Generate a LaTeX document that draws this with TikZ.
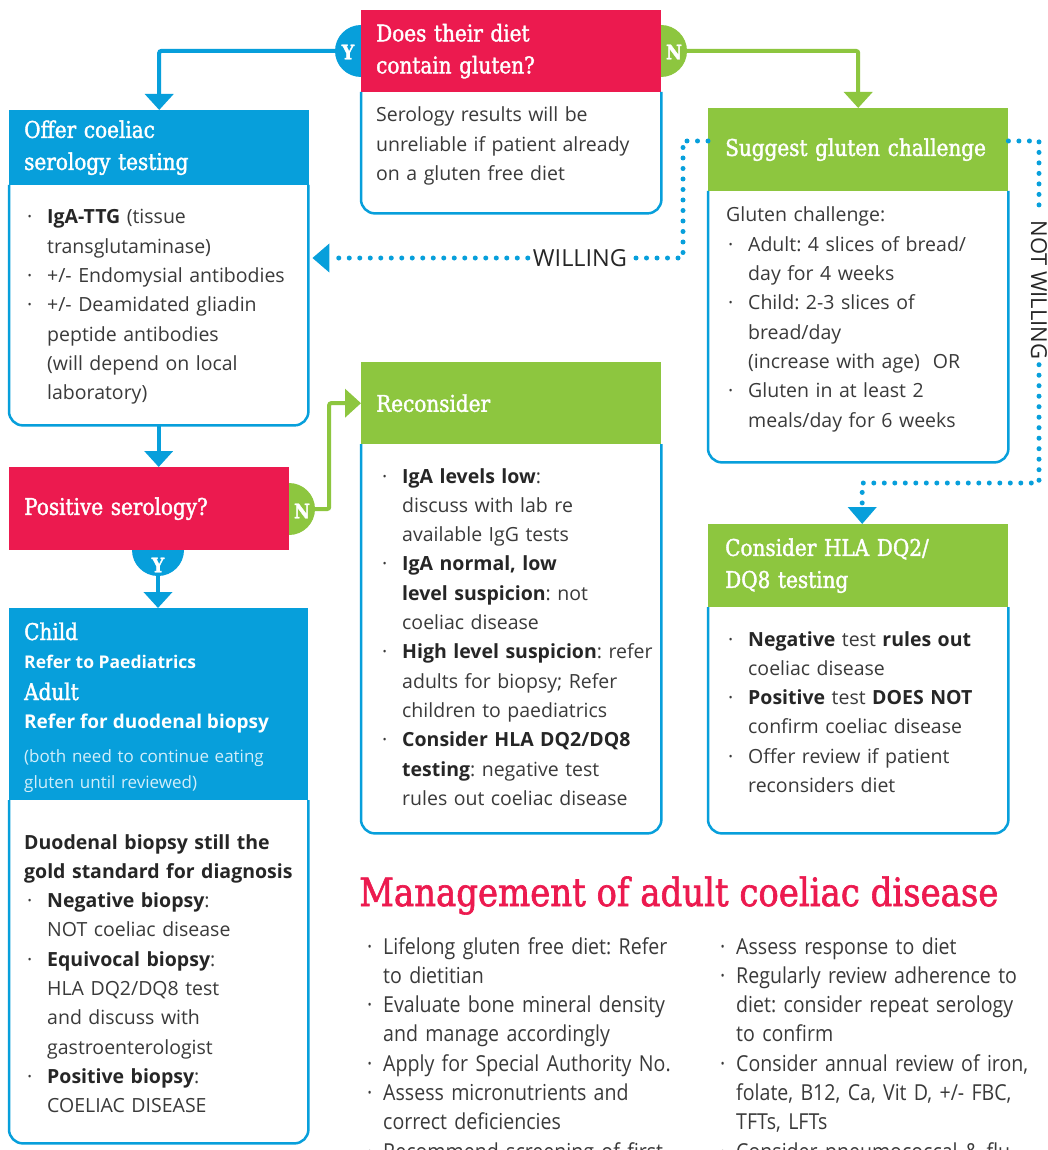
\documentclass[tikz,border=0pt]{standalone}
\usepackage{fontspec}
\setmainfont{Open Sans}
\newfontfamily\slab{DejaVu Serif}[FakeStretch=0.87, FakeBold=1.6]
\newfontfamily\cond{Open Sans}[FakeStretch=0.89]
\usetikzlibrary{arrows.meta,calc}
\definecolor{cblue}{HTML}{079FDB}
\definecolor{cred}{HTML}{EC1A4F}
\definecolor{cgreen}{HTML}{8DC63F}
\definecolor{ctext}{HTML}{3A3A3A}
\definecolor{clight}{HTML}{D2EEFA}
\frenchspacing
\newcommand\bu{\makebox[20pt][l]{·}}
\newcommand\ind{\hspace*{20pt}}
\newcommand\mbu{\makebox[16pt][l]{·}}
\newcommand\mind{\hspace*{16pt}}
\newcommand\hfont{\slab\fontsize{23}{32}\selectfont}
\newcommand\bfontx{\fontsize{19.5}{29.3}\selectfont}
\newcommand\sbold[1]{{\bfseries\color{black!85}#1}}
\begin{document}
\begin{tikzpicture}[x=1pt,y=-1pt,
  hdr/.style={rectangle, anchor=north west, inner xsep=15pt, inner ysep=0pt,
    text width=270pt, minimum width=300pt, align=left, text=white, font=\hfont},
  frame/.style={rectangle, anchor=north west, inner sep=0pt, minimum width=300pt},
  frm/.style={draw=cblue, line width=2.5pt, rounded corners=14pt},
  yn/.style={circle, minimum size=52pt, inner sep=0pt},
  ynl/.style={text=white, font=\slab\bfseries\fontsize{20}{22}\selectfont, inner sep=0pt},
  conn/.style={draw=#1, line width=4pt, rounded corners=2pt,
    -{Triangle[width=28pt,length=16pt]}},
  dots/.style={draw=cblue, line width=5pt, line cap=round, dash pattern=on 0pt off 10.5pt},
  dtip/.style={-{Triangle[width=28pt,length=17pt,fill=cblue]}},
  txt/.style={anchor=base west, inner sep=0pt, text width=#1, align=left,
    font=\bfontx, text=ctext},
  lbl/.style={inner sep=5pt, text=black!85, font=\fontsize{23.5}{26}\selectfont},
  mtxt/.style={anchor=base west, inner sep=0pt, text width=340pt, align=left,
    font=\cond\fontsize{22}{29.3}\selectfont, text=ctext}
]
\path[use as bounding box] (0,0) rectangle (1047,1150);
\clip (0,0) rectangle (1047,1150);
\fill[white] (0,0) rectangle (1047,1150);

% decision circles (drawn beneath the boxes)
\node[yn, fill=cblue] (y1) at (361,51) {};
\node[yn, fill=cgreen] (n1) at (661,51) {};
\node[yn, fill=cgreen] (n2) at (289,509) {};
\node[yn, fill=cblue] (y2) at (158,550) {};

% top question
\node[hdr, fill=cred, minimum height=82pt] (q) at (361,10) {Does their diet\\contain gluten?};
\node[frame, minimum height=121pt] (qb) at (361,92) {};
\draw[frm] (qb.north west) -- (qb.south west) -- (qb.south east) -- (qb.north east);
\node[txt=290pt] (qt) at (376,122) {Serology results will be\\unreliable if patient already\\on a gluten free diet};

% offer serology
\node[hdr, fill=cblue, minimum height=75pt] (offer) at (9,110) {Offer coeliac\\serology testing};
\node[frame, minimum height=240pt, minimum width=299pt] (offerb) at (9,185) {};
\draw[frm] (offerb.north west) -- (offerb.south west) -- (offerb.south east) -- (offerb.north east);
\node[txt=290pt] (offert) at (27,224) {\bu\sbold{IgA-TTG} (tissue\\
\ind transglutaminase)\\
\bu +/- Endomysial antibodies\\
\bu +/- Deamidated gliadin\\
\ind peptide antibodies\\
\ind (will depend on local\\
\ind laboratory)};

% positive serology
\node[hdr, fill=cred, minimum height=83pt, minimum width=280pt, text width=250pt] (pos) at (9,467) {Positive serology?};

% child / adult
\node[frame, fill=cblue, minimum height=192pt, minimum width=299pt] (child) at (9,608) {};
\node[anchor=base west, inner sep=0pt, text=white, font=\slab\fontsize{23}{26}\selectfont] (c1) at (24,640) {Child};
\node[anchor=base west, inner sep=0pt, text=white, font=\bfseries\fontsize{17.5}{20}\selectfont] (c2) at (24,668) {Refer to Paediatrics};
\node[anchor=base west, inner sep=0pt, text=white, font=\slab\fontsize{23}{26}\selectfont] (c3) at (24,700) {Adult};
\node[anchor=base west, inner sep=0pt, text=white, font=\bfseries\fontsize{19}{22}\selectfont] (c4) at (24,728) {Refer for duodenal biopsy};
\node[anchor=base west, inner sep=0pt, text width=280pt, align=left, text=clight, font=\fontsize{17}{26}\selectfont] (c5) at (24,762) {(both need to continue eating\\gluten until reviewed)};
\node[frame, minimum height=343pt, minimum width=299pt] (childb) at (9,800) {};
\draw[frm] (childb.north west) -- (childb.south west) -- (childb.south east) -- (childb.north east);
\node[txt=290pt] (childt) at (27,849) {\hspace*{-3pt}\sbold{Duodenal biopsy still the}\\
\hspace*{-3pt}\sbold{gold standard for diagnosis}\\
\bu\sbold{Negative biopsy}:\\
\ind NOT coeliac disease\\
\bu\sbold{Equivocal biopsy}:\\
\ind HLA DQ2/DQ8 test\\
\ind and discuss with\\
\ind gastroenterologist\\
\bu\sbold{Positive biopsy}:\\
\ind COELIAC DISEASE};

% reconsider
\node[hdr, fill=cgreen, minimum height=82pt] (recon) at (361,362) {Reconsider};
\node[frame, minimum height=389pt] (reconb) at (361,444) {};
\draw[frm] (reconb.north west) -- (reconb.south west) -- (reconb.south east) -- (reconb.north east);
\node[txt=290pt] (recont) at (382,483) {\bu\sbold{IgA levels low}:\\
\ind discuss with lab re\\
\ind available IgG tests\\
\bu\sbold{IgA normal, low}\\
\ind\sbold{level suspicion}: not\\
\ind coeliac disease\\
\bu\sbold{High level suspicion}: refer\\
\ind adults for biopsy; Refer\\
\ind children to paediatrics\\
\bu\sbold{Consider HLA DQ2/DQ8}\\
\ind\sbold{testing}: negative test\\
\ind rules out coeliac disease};

% gluten challenge
\node[hdr, fill=cgreen, minimum height=83pt, inner xsep=17pt, text width=266pt] (sugg) at (708,108) {Suggest gluten challenge};
\node[frame, minimum height=271pt] (suggb) at (708,191) {};
\draw[frm] (suggb.north west) -- (suggb.south west) -- (suggb.south east) -- (suggb.north east);
\node[txt=290pt] (suggt) at (728,222) {\hspace*{-2pt}Gluten challenge:\\
\bu Adult: 4 slices of bread/\\
\ind day for 4 weeks\\
\bu Child: 2-3 slices of\\
\ind bread/day\\
\ind (increase with age)\ \ OR\\
\bu Gluten in at least 2\\
\ind meals/day for 6 weeks};

% HLA testing
\node[hdr, fill=cgreen, minimum height=83pt, inner xsep=17pt, text width=266pt] (hla) at (708,524) {Consider HLA DQ2/\\DQ8 testing};
\node[frame, minimum height=226pt] (hlab) at (708,607) {};
\draw[frm] (hlab.north west) -- (hlab.south west) -- (hlab.south east) -- (hlab.north east);
\node[txt=290pt] (hlat) at (728,646) {\bu\sbold{Negative} test \sbold{rules out}\\
\ind coeliac disease\\
\bu\sbold{Positive} test \sbold{DOES NOT}\\
\ind confirm coeliac disease\\
\bu Offer review if patient\\
\ind reconsiders diet};

% solid connectors
\draw[conn=cblue] (y1.west) -| (offer.north);
\draw[conn=cgreen] (n1.east) -| (sugg.north);
\draw[conn=cblue] (offerb.south) -- (offerb.south |- pos.north);
\draw[conn=cgreen] (n2.east) -- ++(14,0) |- (recon.west);
\draw[conn=cblue] (y2.south) -- (y2.south |- child.north);

% Y / N letters
\node[ynl] (y1l) at (348,52) {Y};
\node[ynl] (n1l) at (674,52) {N};
\node[ynl] (n2l) at (302,511) {N};
\node[ynl] (y2l) at (158,565) {Y};

% dotted WILLING / NOT WILLING
\node[lbl] (will) at (580,258) {WILLING};
\coordinate (w1) at (683,141);
\draw[dots] (sugg.west |- w1) -- (w1) |- (will.east);
\draw[dots, dtip] (will.west) -- ($(offerb.east |- will.west)+(4,0)$);
\node[lbl, rotate=-90, font=\fontsize{22}{24}\selectfont] (notw) at (1039,290) {NOT WILLING};
\coordinate (nw1) at (1039,141);
\coordinate (nw2) at (1039,483);
\draw[dots] (sugg.east |- nw1) -- (nw1) -- (notw.west);
\draw[dots, dtip] (notw.east) -- (nw2) -| ($(hla.north)+(4,0)$);

% management
\node[anchor=base west, inner sep=0pt, text=cred, font=\slab\fontsize{39}{44}\selectfont] (mtitle) at (359,906) {Management of adult coeliac disease};
\node[mtxt] (ml) at (367,954) {\mbu Lifelong gluten free diet: Refer\\
\mind to dietitian\\
\mbu Evaluate bone mineral density\\
\mind and manage accordingly\\
\mbu Apply for Special Authority No.\\
\mbu Assess micronutrients and\\
\mind correct deficiencies\\
\mbu Recommend screening of first};
\node[mtxt] (mr) at (720,954) {\mbu Assess response to diet\\
\mbu Regularly review adherence to\\
\mind diet: consider repeat serology\\
\mind to confirm\\
\mbu Consider annual review of iron,\\
\mind folate, B12, Ca, Vit D, +/- FBC,\\
\mind TFTs, LFTs\\
\mbu Consider pneumococcal \& flu};
\end{tikzpicture}
\end{document}
